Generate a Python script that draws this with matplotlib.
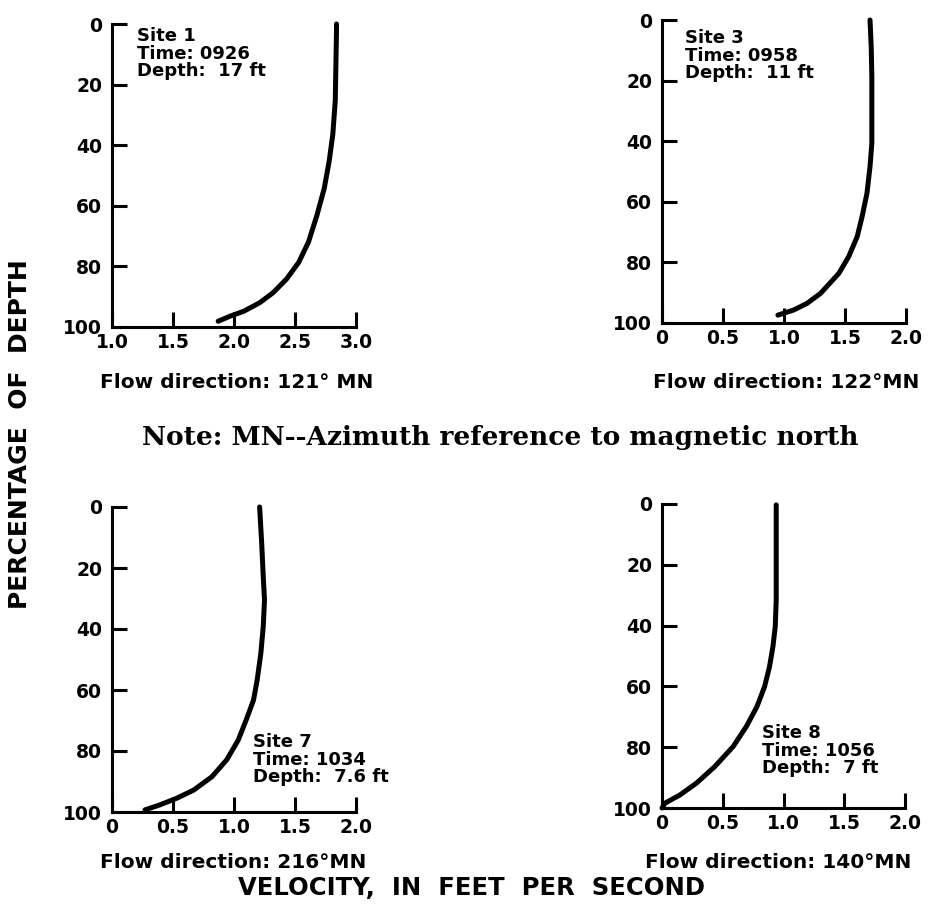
import matplotlib
matplotlib.use("Agg")
import matplotlib.pyplot as plt

# ---- data ----
site1_depth = [0, 2.7, 25.3, 36.4, 45.3, 54.2, 63.1, 72.0, 78.7, 84.2, 88.7, 92.0, 94.8, 96.4, 98.1]
site1_vel = [2.84, 2.84, 2.83, 2.81, 2.78, 2.74, 2.68, 2.61, 2.53, 2.43, 2.32, 2.21, 2.08, 1.97, 1.87]

site3_depth = [0, 9, 18.7, 29.7, 40.7, 48.4, 57.2, 64.9, 71.5, 78.1, 83.6, 88.0, 90.2, 93.5, 95.7, 97.4]
site3_vel = [1.705, 1.715, 1.72, 1.72, 1.72, 1.705, 1.68, 1.64, 1.60, 1.53, 1.45, 1.35, 1.30, 1.19, 1.08, 0.95]

site7_depth = [0, 11.9, 23.0, 30.5, 39.0, 48.0, 56.7, 63.3, 69.8, 76.4, 82.9, 88.4, 92.8, 95.5, 97.7, 99.3]
site7_vel = [1.21, 1.227, 1.24, 1.25, 1.24, 1.22, 1.19, 1.16, 1.10, 1.035, 0.94, 0.82, 0.67, 0.53, 0.39, 0.27]

site8_depth = [0.3, 18.4, 31.6, 40.4, 46.9, 53.5, 60.1, 66.7, 73.2, 79.8, 86.4, 91.8, 95.7, 98.4, 100]
site8_vel = [0.94, 0.94, 0.94, 0.932, 0.913, 0.885, 0.844, 0.781, 0.694, 0.585, 0.434, 0.284, 0.148, 0.025, 0.0]

y_ticks = [0, 20, 40, 60, 80, 100]
x_ticks_site1 = [1.0, 1.5, 2.0, 2.5, 3.0]
x_labels_site1 = ["1.0", "1.5", "2.0", "2.5", "3.0"]
x_ticks_other = [0, 0.5, 1.0, 1.5, 2.0]
x_labels_other = ["0", "0.5", "1.0", "1.5", "2.0"]

site_labels = ["Site 1\nTime: 0926\nDepth:  17 ft",
               "Site 3\nTime: 0958\nDepth:  11 ft",
               "Site 7\nTime: 1034\nDepth:  7.6 ft",
               "Site 8\nTime: 1056\nDepth:  7 ft"]
flow_labels = ["Flow direction: 121° MN",
               "Flow direction: 122°MN",
               "Flow direction: 216°MN",
               "Flow direction: 140°MN"]

W, H = 936, 909
fig = plt.figure(figsize=(W / 100, H / 100), dpi=100)
fig.patch.set_facecolor("white")

def rect(x0, y0, x1, y1):
    return [x0 / W, 1 - y1 / H, (x1 - x0) / W, (y1 - y0) / H]

FONT = "DejaVu Sans"

panels = [
    dict(rect=rect(112, 24, 356, 327), d=site1_depth, v=site1_vel, xlim=(1.0, 3.0),
         xt=x_ticks_site1, xl=x_labels_site1, site=site_labels[0], site_xy=(137, 27),
         flow=flow_labels[0], flow_xy=(237, 383)),
    dict(rect=rect(662, 20, 906, 323), d=site3_depth, v=site3_vel, xlim=(0, 2.0),
         xt=x_ticks_other, xl=x_labels_other, site=site_labels[1], site_xy=(685, 29),
         flow=flow_labels[1], flow_xy=(786, 383)),
    dict(rect=rect(112, 507, 356, 812), d=site7_depth, v=site7_vel, xlim=(0, 2.0),
         xt=x_ticks_other, xl=x_labels_other, site=site_labels[2], site_xy=(253, 733),
         flow=flow_labels[2], flow_xy=(233, 862)),
    dict(rect=rect(662, 504, 905, 808), d=site8_depth, v=site8_vel, xlim=(0, 2.0),
         xt=x_ticks_other, xl=x_labels_other, site=site_labels[3], site_xy=(762, 724),
         flow=flow_labels[3], flow_xy=(778, 862)),
]

for p in panels:
    ax = fig.add_axes(p["rect"])
    ax.plot(p["v"], p["d"], color="black", lw=3.6, solid_capstyle="round",
            solid_joinstyle="round", clip_on=False)
    ax.set_xlim(*p["xlim"])
    ax.set_ylim(100, 0)
    ax.set_xticks(p["xt"])
    ax.set_xticklabels(p["xl"])
    ax.set_yticks(y_ticks)
    ax.set_yticklabels([str(t) for t in y_ticks])
    for s in ["top", "right"]:
        ax.spines[s].set_visible(False)
    for s in ["left", "bottom"]:
        ax.spines[s].set_linewidth(2.2)
    ax.tick_params(axis="both", direction="in", length=11, width=2.2,
                   labelsize=13.5)
    ax.tick_params(axis="x", pad=4)
    ax.tick_params(axis="y", pad=7)
    for lab in ax.get_xticklabels() + ax.get_yticklabels():
        lab.set_fontweight("bold")
        lab.set_family(FONT)
    ax.patch.set_alpha(0)
    fig.text(p["site_xy"][0] / W, 1 - p["site_xy"][1] / H, p["site"],
             ha="left", va="top", fontsize=13, fontweight="bold", family=FONT,
             linespacing=0.98)
    fig.text(p["flow_xy"][0] / W, 1 - p["flow_xy"][1] / H, p["flow"],
             ha="center", va="center", fontsize=14.5, fontweight="bold", family=FONT)

fig.text(20 / W, 1 - 434 / H, "PERCENTAGE  OF  DEPTH", rotation=90,
         ha="center", va="center", fontsize=18, fontweight="bold", family=FONT)
fig.text(471 / W, 1 - 888 / H, "VELOCITY,  IN  FEET  PER  SECOND",
         ha="center", va="center", fontsize=17.5, fontweight="bold", family=FONT)
fig.text(500 / W, 1 - 437 / H, "Note: MN--Azimuth reference to magnetic north",
         ha="center", va="center", fontsize=19, fontweight="bold", family="DejaVu Serif")

fig.savefig("out.png", dpi=100, facecolor="white")
